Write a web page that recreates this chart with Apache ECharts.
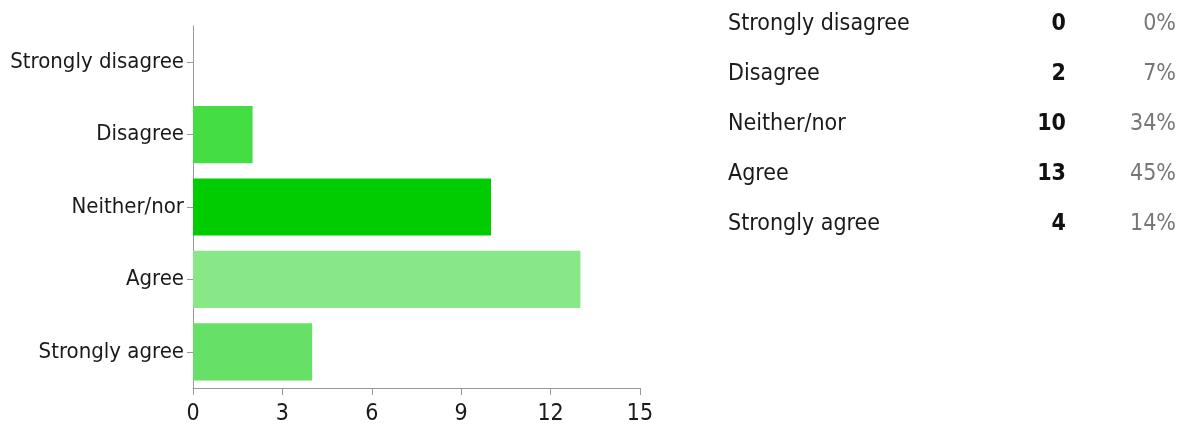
<!DOCTYPE html>
<html><head><meta charset="utf-8">
<script src="https://cdn.jsdelivr.net/npm/echarts@6/dist/echarts.min.js"></script>
<style>html,body{margin:0;padding:0;background:#fff}#c{width:1186px;height:429px}</style>
</head><body><div id="c"></div>
<script>
const categories = ['Strongly disagree', 'Disagree', 'Neither/nor', 'Agree', 'Strongly agree'];
const counts = [0, 2, 10, 13, 4];
const percents = ['0%', '7%', '34%', '45%', '14%'];
const barColors = ['#33cc33', '#44dd44', '#00cc00', '#88e888', '#66e066'];
const xTicks = [0, 3, 6, 9, 12, 15];

const FONT = '"Liberation Sans Narrow", "DejaVu Sans Condensed", "Liberation Sans", sans-serif';
const chart = echarts.init(document.getElementById('c'));

const graphics = [];
categories.forEach((c, i) => {
  const y = 23 + i * 50;
  graphics.push({type: 'text', left: 728, top: y - 10, style: {text: c, font: '23px ' + FONT, fill: '#1a1a1a'}});
  graphics.push({type: 'text', right: 1186 - 1066, top: y - 10, style: {text: String(counts[i]), font: 'bold 23px ' + FONT, fill: '#111', textAlign: 'right'}});
  graphics.push({type: 'text', right: 1186 - 1176, top: y - 10, style: {text: percents[i], font: '23px ' + FONT, fill: '#777', textAlign: 'right'}});
});

chart.setOption({
  animation: false,
  grid: {left: 193, top: 26, width: 447, height: 362, outerBoundsMode: 'none', containLabel: false},
  xAxis: {
    type: 'value', min: xTicks[0], max: xTicks[xTicks.length - 1], interval: 3,
    axisLine: {show: true, lineStyle: {color: '#999', width: 1}},
    axisTick: {show: true, length: 7, lineStyle: {color: '#999'}},
    splitLine: {show: false},
    axisLabel: {color: '#1a1a1a', fontSize: 23, fontFamily: FONT, margin: 15}
  },
  yAxis: {
    type: 'category', data: categories, inverse: true,
    axisLine: {show: true, lineStyle: {color: '#999', width: 1}},
    axisTick: {show: true, length: 6, alignWithLabel: true, lineStyle: {color: '#999'}},
    axisLabel: {color: '#1a1a1a', fontSize: 22, fontFamily: FONT, margin: 9}
  },
  series: [{
    type: 'bar', barCategoryGap: '21%',
    data: counts.map((v, i) => ({value: v, itemStyle: {color: barColors[i]}}))
  }],
  graphic: graphics
});
</script></body></html>
